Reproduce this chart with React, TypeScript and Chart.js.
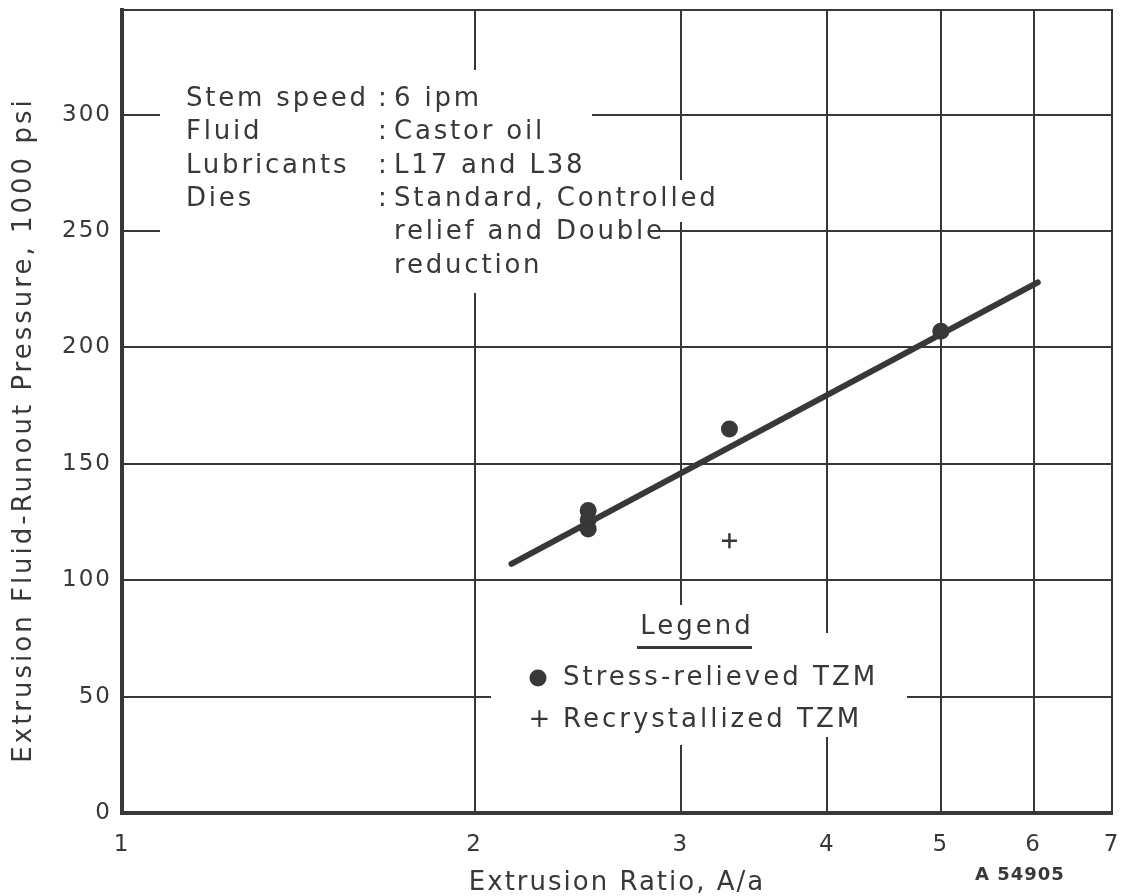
import React, { useEffect, useRef } from "react";
import { Chart, registerables } from "chart.js";

Chart.register(...registerables);

// ---- data ----
const xTickValues = [1, 2, 3, 4, 5, 6, 7];
const yTickValues = [0, 50, 100, 150, 200, 250, 300];
const stressRelievedX = [2.5, 2.5, 2.5, 3.3, 5];
const stressRelievedY = [130, 126, 122, 165, 207];
const recrystallizedX = [3.3];
const recrystallizedY = [117];
const fitLineX = [2.15, 6.05];
const fitLineY = [107, 228];
const noteLabels = ["Stem speed", "Fluid", "Lubricants", "Dies", "", ""];
const noteValues = ["6 ipm", "Castor oil", "L17 and L38", "Standard, Controlled", "relief and Double", "reduction"];
const legendLabels = ["Stress-relieved TZM", "Recrystallized TZM"];
const xTitle = "Extrusion Ratio, A/a";
const yTitle = "Extrusion Fluid-Runout Pressure, 1000 psi";
const figureCode = "A 54905";

const INK = "#383838";
const FONT = "DejaVu Sans";

const overlayPlugin = {
  id: "overlay",
  beforeDraw(chart: any) {
    (chart.ctx as any).letterSpacing = "2px";
  },
  beforeDatasetsDraw(chart: any) {
    const ctx = chart.ctx;
    const { top, right, bottom } = chart.chartArea;
    ctx.save();
    // frame (top and right)
    ctx.strokeStyle = INK;
    ctx.lineWidth = 2;
    ctx.beginPath();
    ctx.moveTo(chart.chartArea.left, top);
    ctx.lineTo(right, top);
    ctx.lineTo(right, bottom);
    ctx.stroke();
    // white areas behind text blocks (grid is interrupted there)
    ctx.fillStyle = "#ffffff";
    const masks = [
      [160, 70, 592, 150],
      [160, 150, 600, 180],
      [160, 180, 705, 222],
      [160, 222, 660, 293],
      [491, 633, 907, 737],
      [620, 605, 760, 745],
    ];
    masks.forEach(([x0, y0, x1, y1]) => ctx.fillRect(x0, y0, x1 - x0, y1 - y0));

    // notes block
    ctx.fillStyle = INK;
    (ctx as any).letterSpacing = "2.8px";
    ctx.font = `26px "${FONT}"`;
    ctx.textBaseline = "middle";
    ctx.textAlign = "left";
    noteLabels.forEach((lab, i) => {
      const y = 99 + i * 33.4;
      if (lab) {
        ctx.fillText(lab, 186, y);
        ctx.fillText(":", 378, y);
      }
      ctx.fillText(noteValues[i], 394, y);
    });

    // legend block
    (ctx as any).letterSpacing = "3px";
    ctx.textAlign = "center";
    ctx.fillText("Legend", 697, 627);
    ctx.fillRect(637, 646, 115, 3);
    ctx.textAlign = "left";
    ctx.beginPath();
    ctx.arc(538, 678, 8.5, 0, Math.PI * 2);
    ctx.fill();
    ctx.fillText(legendLabels[0], 563, 678);
    ctx.textAlign = "center";
    ctx.fillText("+", 541, 720);
    ctx.textAlign = "left";
    ctx.fillText(legendLabels[1], 563, 720);

    // y-axis title
    ctx.save();
    ctx.translate(24, 430);
    ctx.rotate(-Math.PI / 2);
    ctx.textAlign = "center";
    ctx.font = `26px "${FONT}"`;
    (ctx as any).letterSpacing = "3px";
    ctx.fillText(yTitle, 0, 0);
    ctx.restore();

    // figure code
    ctx.font = `bold 18px "${FONT}"`;
    (ctx as any).letterSpacing = "1px";
    ctx.textAlign = "left";
    ctx.fillText(figureCode, 975, 875);
    ctx.restore();
  },
};

export default function App() {
  const canvasRef = useRef<HTMLCanvasElement | null>(null);

  useEffect(() => {
    if (!canvasRef.current) return;
    const tickFont = { family: FONT, size: 23, lineHeight: 0.7 };
    const chart = new Chart(canvasRef.current, {
      type: "scatter",
      data: {
        datasets: [
          {
            label: "fit",
            type: "line",
            data: fitLineX.map((x, i) => ({ x, y: fitLineY[i] })),
            borderColor: INK,
            borderWidth: 6,
            borderCapStyle: "round",
            pointRadius: 0,
            fill: false,
          } as any,
          {
            label: legendLabels[0],
            data: stressRelievedX.map((x, i) => ({ x, y: stressRelievedY[i] })),
            pointStyle: "circle",
            pointRadius: 8.5,
            backgroundColor: INK,
            borderColor: INK,
            borderWidth: 0,
          },
          {
            label: legendLabels[1],
            data: recrystallizedX.map((x, i) => ({ x, y: recrystallizedY[i] })),
            pointStyle: "cross",
            pointRadius: 7.5,
            borderColor: INK,
            borderWidth: 2.5,
          },
        ],
      },
      options: {
        animation: false,
        responsive: false,
        layout: { padding: { top: 9, right: 7, left: 0, bottom: 0 } },
        plugins: { legend: { display: false }, tooltip: { enabled: false } },
        scales: {
          x: {
            type: "logarithmic",
            min: 1,
            max: 7,
            afterBuildTicks: (s: any) => {
              s.ticks = xTickValues.map((v) => ({ value: v }));
            },
            afterFit: (s: any) => {
              s.height = 83;
              s.paddingLeft = 0;
              s.paddingRight = 0;
            },
            ticks: {
              callback: (v: any) => String(v),
              font: tickFont,
              color: INK,
              padding: 24,
              maxRotation: 0,
              autoSkip: false,
            },
            grid: { color: INK, lineWidth: 2, drawTicks: false },
            border: { color: INK, width: 4 },
            title: {
              display: true,
              text: xTitle,
              color: INK,
              font: { family: FONT, size: 26, lineHeight: 1 },
              padding: { top: 0, bottom: 0 },
            },
          },
          y: {
            type: "linear",
            min: 0,
            max: 345,
            afterBuildTicks: (s: any) => {
              s.ticks = yTickValues.map((v) => ({ value: v }));
            },
            afterFit: (s: any) => {
              s.width = 122;
              s.paddingTop = 0;
              s.paddingBottom = 0;
            },
            ticks: { font: tickFont, color: INK, padding: 10 },
            grid: { color: INK, lineWidth: 2, drawTicks: false },
            border: { color: INK, width: 4 },
          },
        },
      },
      plugins: [overlayPlugin],
    });
    return () => chart.destroy();
  }, []);

  return (
    <div style={{ position: "absolute", left: 0, top: 0, width: 1122, height: 896, background: "#fff" }}>
      <canvas ref={canvasRef} width={1122} height={896} style={{ display: "block" }} />
    </div>
  );
}
